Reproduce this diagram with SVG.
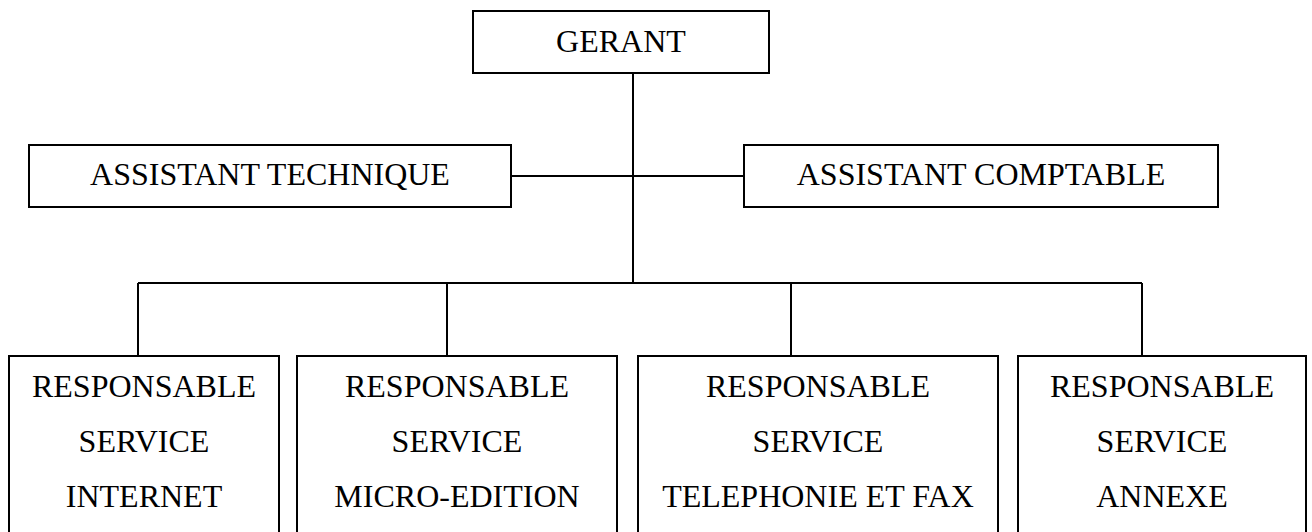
<svg xmlns="http://www.w3.org/2000/svg" width="1312" height="532" viewBox="0 0 1312 532">
<style>
rect{fill:#fff;stroke:#000;stroke-width:2}
line{stroke:#000;stroke-width:2}
text{font-family:"Liberation Serif","Times New Roman",serif;font-size:32px;fill:#000;text-anchor:middle}
</style>
<rect x="0" y="0" width="1312" height="532" style="stroke:none"/>
<g id="connectors">
<line x1="633" y1="73" x2="633" y2="283"/>
<line x1="511" y1="176" x2="744" y2="176"/>
<line x1="138" y1="283" x2="1142" y2="283"/>
<line x1="138" y1="283" x2="138" y2="356"/>
<line x1="447" y1="283" x2="447" y2="356"/>
<line x1="791" y1="283" x2="791" y2="356"/>
<line x1="1142" y1="283" x2="1142" y2="356"/>
</g>
<g id="gerant">
<rect x="473" y="11" width="296" height="62"/>
<text x="621" y="52">GERANT</text>
</g>
<g id="assistant-technique">
<rect x="29" y="145" width="482" height="62"/>
<text x="270" y="185">ASSISTANT TECHNIQUE</text>
</g>
<g id="assistant-comptable">
<rect x="744" y="145" width="474" height="62"/>
<text x="981" y="185">ASSISTANT COMPTABLE</text>
</g>
<g id="resp-internet">
<rect x="9" y="356" width="270" height="190"/>
<text x="144" y="397">RESPONSABLE</text>
<text x="144" y="452">SERVICE</text>
<text x="144" y="507">INTERNET</text>
</g>
<g id="resp-micro-edition">
<rect x="297" y="356" width="320" height="190"/>
<text x="457" y="397">RESPONSABLE</text>
<text x="457" y="452">SERVICE</text>
<text x="457" y="507">MICRO-EDITION</text>
</g>
<g id="resp-telephonie">
<rect x="638" y="356" width="360" height="190"/>
<text x="818" y="397">RESPONSABLE</text>
<text x="818" y="452">SERVICE</text>
<text x="818" y="507">TELEPHONIE ET FAX</text>
</g>
<g id="resp-annexe">
<rect x="1018" y="356" width="288" height="190"/>
<text x="1162" y="397">RESPONSABLE</text>
<text x="1162" y="452">SERVICE</text>
<text x="1162" y="507">ANNEXE</text>
</g>
</svg>
